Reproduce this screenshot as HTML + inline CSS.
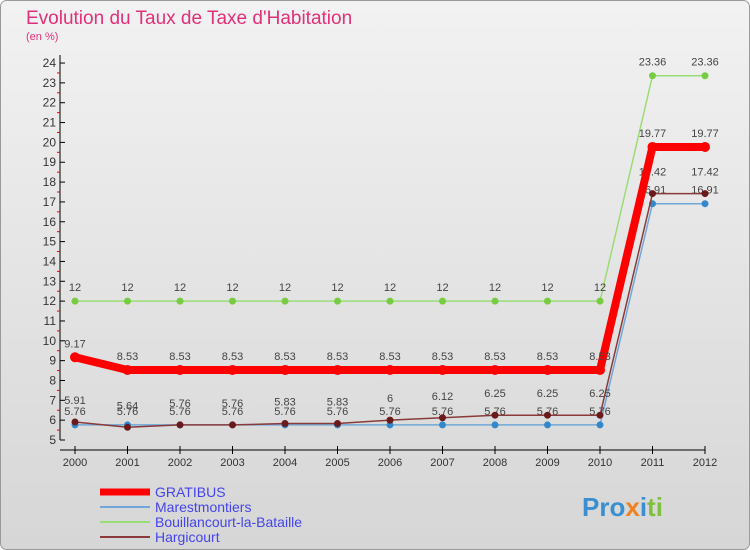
<!DOCTYPE html>
<html><head><meta charset="utf-8"><style>
body{margin:0;background:#fff}
#wrap{position:relative;width:750px;height:550px;overflow:hidden;font-family:"Liberation Sans",sans-serif}
svg text{font-family:"Liberation Sans",sans-serif}
</style></head><body>
<div id="wrap">
<svg id="svg" width="750" height="550" xmlns="http://www.w3.org/2000/svg">
<defs><linearGradient id="bg" x1="0" y1="0" x2="0" y2="1"><stop offset="0" stop-color="#f2f2f2"/><stop offset="1" stop-color="#d6d6d6"/></linearGradient></defs>
<rect x="0.5" y="0.5" width="749" height="549" rx="6" fill="url(#bg)" stroke="#999"/>
<text x="26" y="24" font-size="19" fill="#e0307a">Evolution du Taux de Taxe d'Habitation</text>
<text x="26" y="40" font-size="11" fill="#e0307a">(en %)</text>
<g id="axes"></g><g id="series"></g><g id="legend"></g>
<text x="582" y="516" font-size="26" font-weight="bold" fill="#3a8fd0">Pro<tspan fill="#f08020">x</tspan><tspan fill="#3a8fd0">i</tspan><tspan fill="#80c040">ti</tspan></text>
</svg></div>
<script>
const years=[2000,2001,2002,2003,2004,2005,2006,2007,2008,2009,2010,2011,2012];
const gratibus=[9.17,8.53,8.53,8.53,8.53,8.53,8.53,8.53,8.53,8.53,8.53,19.77,19.77];
const marest=[5.76,5.76,5.76,5.76,5.76,5.76,5.76,5.76,5.76,5.76,5.76,16.91,16.91];
const bouill=[12,12,12,12,12,12,12,12,12,12,12,23.36,23.36];
const hargi=[5.91,5.64,5.76,5.76,5.83,5.83,6,6.12,6.25,6.25,6.25,17.42,17.42];
const yTicks=[5,6,7,8,9,10,11,12,13,14,15,16,17,18,19,20,21,22,23,24];
const NS="http://www.w3.org/2000/svg";
const X=i=>75+i*52.5, Y=v=>440-(v-5)*19.84;
function mk(tag,attrs,parent,text){const e=document.createElementNS(NS,tag);for(const k in attrs)e.setAttribute(k,attrs[k]);if(text!==undefined)e.textContent=text;parent.appendChild(e);return e;}
const ax=document.getElementById('axes');
let e=mk('line',{x1:60,y1:Y(24)-8,x2:60,y2:440,stroke:'#000'},ax);


e=mk('line',{x1:60,y1:450,x2:X(12),y2:450,stroke:'#000'},ax);


yTicks.forEach(t=>{
 mk('line',{x1:60,y1:Y(t),x2:65,y2:Y(t),stroke:'#000'},ax);
 if(t<24) mk('line',{x1:57,y1:Y(t+0.5),x2:60,y2:Y(t+0.5),stroke:'#e00'},ax);
 e=mk('text',{x:56,y:Y(t)+4,'font-size':12,'text-anchor':'end',fill:'#333'},ax,t);
 
 
});
years.forEach((yr,i)=>{
 mk('line',{x1:X(i),y1:446,x2:X(i),y2:454,stroke:'#000'},ax);
 e=mk('text',{x:X(i),y:466,'font-size':11,'text-anchor':'middle',fill:'#333'},ax,yr);
 
 
});
const sg=document.getElementById('series');
function series(vals,color,w,dot,dotc,name,dy){
 const g=mk('g',{},sg);
 
 
 mk('polyline',{points:vals.map((v,i)=>X(i)+','+Y(v)).join(' '),fill:'none',stroke:color,'stroke-width':w,'stroke-linejoin':'round'},g);
 vals.forEach((v,i)=>{
  const c=mk('circle',{cx:X(i),cy:Y(v),r:dot,fill:dotc},g);
  
  
  const t=mk('text',{x:X(i),y:Y(v)+dy,'font-size':11,'text-anchor':'middle',fill:'#444'},g,String(v));
  
  
 });
}
series(marest,'#6fa8d8',1.5,3.5,'#3388cc','marestmontiers-line',-10);
series(bouill,'#99dd77',1.5,3.5,'#77cc44','bouillancourt-line',-10);
series(hargi,'#8a3a3a',1.5,3.5,'#6a1a1a','hargicourt-line',-18);
series(gratibus,'#ff0000',8,5,'#ff0000','gratibus-line',-10);
const lg=document.getElementById('legend');
const items=[['GRATIBUS','#ff0000',7],['Marestmontiers','#6fa8d8',2],['Bouillancourt-la-Bataille','#99dd77',2],['Hargicourt','#8a3a3a',2]];
items.forEach((it,k)=>{
 const yy=492+k*15;
 const g=mk('g',{},lg);
 
 
 mk('line',{x1:100,y1:yy,x2:150,y2:yy,stroke:it[1],'stroke-width':it[2]},g);
 mk('text',{x:155,y:yy+5,'font-size':14,fill:'#4444ee'},g,it[0]);
});
</script></body></html>
